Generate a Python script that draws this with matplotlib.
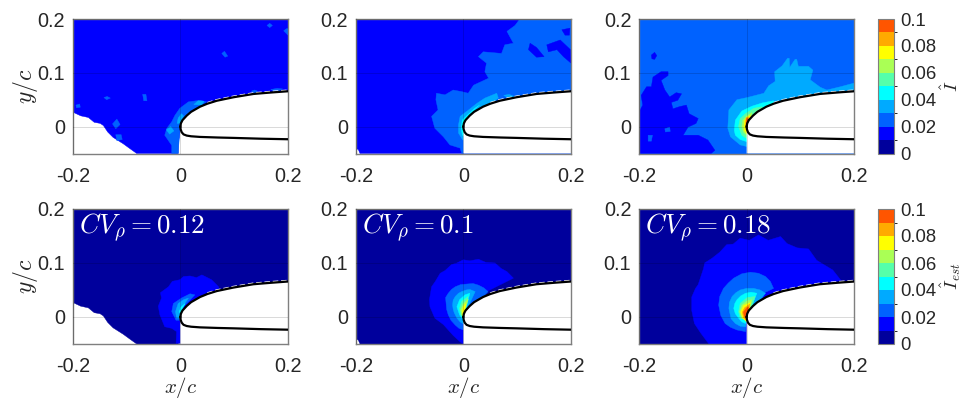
"""Leading edge fields, measured (top) and estimated (bottom)"""

import matplotlib

matplotlib.use("Agg")
import matplotlib.pyplot as plt
from matplotlib.cm import ScalarMappable
from matplotlib.colors import BoundaryNorm, ListedColormap

plt.rcParams["font.family"] = ["Liberation Sans", "DejaVu Sans"]
plt.rcParams["mathtext.fontset"] = "cm"

# colour levels of the contour plots
levels = [0, 0.01, 0.02, 0.03, 0.04, 0.05, 0.06, 0.07, 0.08, 0.09, 0.1]
level_colors = ["#00009c", "#0000ff", "#0062ff", "#00aaff", "#00ffff",
                "#55ffaa", "#aaff55", "#ffff00", "#ffaa00", "#ff5500"]
cbar_ticks = [0, 0.02, 0.04, 0.06, 0.08, 0.1]
cbar_labels = ["0", "0.02", "0.04", "0.06", "0.08", "0.1"]
x_ticks = [-0.2, 0, 0.2]
x_labels = ["-0.2", "0", "0.2"]
y_ticks = [0, 0.1, 0.2]
y_labels = ["0", "0.1", "0.2"]
cv_labels = ["0.12", "0.1", "0.18"]

# airfoil surface
upper_x = [0, 0.001, 0.004, 0.0118, 0.02, 0.0366, 0.05, 0.0675, 0.0985, 0.136, 0.17, 0.2]
upper_y = [0, 0.006, 0.012, 0.0204, 0.0275, 0.037, 0.0425, 0.048, 0.0545, 0.0607, 0.0635, 0.0657]
lower_x = [0, 0.0005, 0.0025, 0.006, 0.0118, 0.02, 0.0366, 0.07, 0.0985, 0.15, 0.2]
lower_y = [0, -0.005, -0.0105, -0.0145, -0.0167, -0.018, -0.0192, -0.0203, -0.021, -0.0225, -0.0235]

# measured area, first column (also used for the estimate below it)
wake_x = [-0.2, 0.2, 0.2, 0, -0.002, -0.004, -0.004, -0.081, -0.095, -0.106, -0.125, -0.135,
          -0.143, -0.149, -0.16, -0.171, -0.185, -0.2]
wake_y = [0.2, 0.2, 0, 0, -0.02, -0.03, -0.05, -0.05, -0.04, -0.032, -0.02, -0.01,
          0.002, 0.006, 0.008, 0.017, 0.02, 0.027]
# measured area, second column
open_x = [-0.2, 0.2, 0.2, -0.192, -0.195, -0.2]
open_y = [0.2, 0.2, -0.05, -0.05, -0.043, -0.04]
# measured area, third column
full_x = [-0.2, 0.2, 0.2, -0.2]
full_y = [0.2, 0.2, -0.05, -0.05]

# first column, measured
a2_x = [-0.016, -0.016, -0.029, -0.025, -0.016, -0.01, -0.001, 0.015, 0.037, 0.049, 0.024, 0, -0.004]
a2_y = [-0.05, -0.035, -0.016, -0.003, 0.009, 0.021, 0.034, 0.046, 0.049, 0.046, 0.031, 0.006, -0.05]
a3_x = [-0.006, -0.004, 0.002, 0.006, 0]
a3_y = [0.006, 0.016, 0.024, 0.02, 0.006]
a3b_x = [0.025, 0.033, 0.044, 0.04]
a3b_y = [0.041, 0.048, 0.047, 0.04]
a3c_x = [-0.026, -0.018, -0.012, -0.02]
a3c_y = [-0.006, 0, -0.008, -0.014]
a_spots_x = [[0.161, 0.166, 0.171, 0.166], [0.077, 0.082, 0.088, 0.083], [0.192, 0.197, 0.2, 0.2],
             [-0.142, -0.136, -0.13, -0.137], [-0.07, -0.064, -0.062, -0.068],
             [-0.126, -0.118, -0.112, -0.12], [-0.12, -0.11, -0.108, -0.118],
             [-0.194, -0.187, -0.186, -0.193], [0.132, 0.138, 0.143, 0.14],
             [0.168, 0.18, 0.19, 0.178]]
a_spots_y = [[0.188, 0.192, 0.188, 0.184], [0.136, 0.14, 0.131, 0.129], [0.178, 0.182, 0.182, 0.17],
             [0.054, 0.056, 0.053, 0.05], [0.06, 0.06, 0.048, 0.048],
             [0.005, 0.014, 0.004, -0.004], [-0.015, -0.015, -0.024, -0.026],
             [0.04, 0.042, 0.036, 0.035], [0.066, 0.068, 0.066, 0.058],
             [0.069, 0.071, 0.07, 0.064]]

# second column, measured
b2_x = [0.105, 0.096, 0.081, 0.093, 0.077, 0.071, 0.037, 0.028, 0.043, 0.04, 0.047, 0.019, 0.009,
        -0.003, -0.019, -0.034, -0.05, -0.051, -0.047, -0.059, -0.053, -0.037, -0.025, -0.006,
        -0.003, 0.2, 0.2]
b2_y = [0.2, 0.188, 0.177, 0.155, 0.152, 0.136, 0.139, 0.13, 0.118, 0.102, 0.09, 0.077, 0.062,
        0.065, 0.068, 0.059, 0.062, 0.05, 0.031, 0.019, -0.003, -0.019, -0.034, -0.04,
        -0.05, -0.05, 0.2]
b_holes_x = [[0.124, 0.136, 0.15, 0.136, 0.121],
             [0.155, 0.18, 0.199, 0.2, 0.186, 0.174, 0.158],
             [0.183, 0.198, 0.197, 0.189]]
b_holes_y = [[0.155, 0.147, 0.13, 0.129, 0.143],
             [0.152, 0.161, 0.143, 0.118, 0.13, 0.143, 0.139],
             [0.18, 0.183, 0.17, 0.17]]
b3_x = [-0.009, -0.006, 0.006, 0.025, 0.04, 0.062, 0.065, 0.02, 0, -0.001, -0.009]
b3_y = [0.003, 0.019, 0.028, 0.043, 0.053, 0.062, 0.053, 0.02, -0.025, -0.025, -0.012]
b3b_x = [0.075, 0.085, 0.095, 0.09]
b3b_y = [0.058, 0.06, 0.056, 0.05]
b4_x = [-0.004, -0.002, 0.006, 0.02, 0.03, 0.01, 0, -0.002]
b4_y = [-0.003, 0.012, 0.02, 0.033, 0.04, 0.022, -0.018, -0.015]

# third column, measured
c1_x = [-0.2, -0.193, -0.196, -0.186, -0.177, -0.174, -0.159, -0.146, -0.146, -0.159, -0.152, -0.143,
        -0.131, -0.121, -0.128, -0.14, -0.137, -0.125, -0.112, -0.107, -0.09, -0.094, -0.109,
        -0.118, -0.09, -0.072, -0.059, -0.066, -0.2]
c1_y = [0.027, 0.04, 0.058, 0.074, 0.074, 0.092, 0.102, 0.102, 0.095, 0.086, 0.068, 0.055,
        0.063, 0.061, 0.049, 0.045, 0.033, 0.037, 0.04, 0.024, 0.015, 0.006, -0.001,
        -0.016, -0.016, -0.025, -0.044, -0.05, -0.05]
c1b_x = [-0.177, -0.171, -0.167, -0.171, -0.176]
c1b_y = [0.133, 0.138, 0.132, 0.125, 0.126]
c_holes_x = [[-0.152, -0.143, -0.142, -0.151], [-0.183, -0.175, -0.177, -0.183]]
c_holes_y = [[-0.004, -0.001, -0.009, -0.01], [-0.016, -0.016, -0.027, -0.027]]
c3_x = [-0.035, -0.033, -0.018, 0.001, 0.032, 0.041, 0.053, 0.052, 0.066, 0.076, 0.079, 0.08, 0.09,
        0.093, 0.096, 0.115, 0.123, 0.118, 0.137, 0.149, 0.174, 0.2, 0.2, 0, -0.012, -0.03]
c3_y = [-0.003, 0.031, 0.05, 0.054, 0.062, 0.076, 0.084, 0.102, 0.113, 0.127, 0.127, 0.11, 0.125,
        0.125, 0.112, 0.112, 0.105, 0.087, 0.073, 0.068, 0.074, 0.081, 0.056, -0.037, -0.034, -0.019]
c4_x = [-0.023, -0.021, -0.009, 0.01, 0.029, 0.05, 0.053, 0.004, 0, -0.012, -0.021]
c4_y = [-0.007, 0.012, 0.029, 0.038, 0.044, 0.048, 0.031, -0.022, -0.028, -0.024, -0.016]
c5_x = [-0.015, -0.012, -0.002, 0.013, 0.029, 0.004, 0, -0.009]
c5_y = [0, 0.015, 0.024, 0.034, 0.037, -0.019, -0.022, -0.016]
c6_x = [-0.009, -0.007, 0, 0.01, 0.004, 0, -0.006]
c6_y = [0, 0.012, 0.02, 0.026, -0.013, -0.016, -0.01]
c7_x = [-0.005, -0.004, 0.001, 0.007, 0.004, 0, -0.004]
c7_y = [0, 0.011, 0.018, 0.021, -0.01, -0.013, -0.007]
c8_x = [-0.002, -0.001, 0.004, 0.002, 0]
c8_y = [0.006, 0.017, 0.018, -0.003, -0.006]
c9_x = [-0.001, 0, 0.004, 0.001]
c9_y = [0.008, 0.015, 0.014, 0.002]

# first column, estimated
d1_x = [-0.008, -0.007, -0.016, -0.029, -0.038, -0.041, -0.035, -0.037, -0.022, -0.015, -0.001, 0.006,
        0.018, 0.03, 0.04, 0.052, 0.058, 0.071, 0.074, 0.037, 0, 0]
d1_y = [-0.049, -0.027, -0.021, -0.018, 0.004, 0.02, 0.035, 0.045, 0.056, 0.066, 0.069, 0.075,
        0.076, 0.073, 0.078, 0.072, 0.069, 0.056, 0.044, 0.032, 0, -0.049]
d2_x = [-0.016, -0.013, 0.002, 0.018, 0.027, 0.006, 0, -0.008]
d2_y = [0.01, 0.025, 0.035, 0.043, 0.041, 0.019, -0.006, -0.006]
d3_x = [-0.009, -0.004, 0.006, 0.015, 0.002, 0, -0.007]
d3_y = [0.01, 0.025, 0.032, 0.035, 0.016, -0.002, -0.002]
d4_x = [-0.002, 0.001, 0.009, 0.002, 0]
d4_y = [0.01, 0.018, 0.025, 0.013, 0.007]

# second column, estimated
e1_x = [-0.063, -0.059, -0.052, -0.043, -0.034, -0.022, -0.012, 0, 0.012, 0.028, 0.042, 0.059, 0.07,
        0.081, 0.093, 0.043, 0, 0, -0.006, -0.019, -0.037, -0.053, -0.062]
e1_y = [0.032, 0.056, 0.066, 0.081, 0.086, 0.097, 0.1, 0.106, 0.104, 0.107, 0.101, 0.1, 0.09,
        0.084, 0.072, 0.047, 0, -0.05, -0.046, -0.034, -0.014, -0.002, 0.019]
e2_x = [-0.032, -0.033, -0.028, -0.022, -0.015, -0.005, 0.006, 0.018, 0.028, 0.038, 0.046, 0, 0,
        -0.008, -0.015, -0.023, -0.028, -0.031]
e2_y = [0.025, 0.036, 0.044, 0.051, 0.056, 0.06, 0.061, 0.062, 0.059, 0.054, 0.047, 0, -0.024,
        -0.021, -0.015, -0.006, 0.004, 0.014]
e3_x = [-0.02, -0.019, -0.015, -0.009, -0.003, 0.005, 0.012, 0.022, 0, 0, -0.006, -0.012, -0.017, -0.019]
e3_y = [0.022, 0.031, 0.038, 0.044, 0.047, 0.05, 0.051, 0.047, 0, -0.013, -0.009, -0.002, 0.008, 0.015]
e4_x = [-0.012, -0.007, 0.003, 0.012, 0, -0.007]
e4_y = [0.019, 0.032, 0.041, 0.044, -0.006, 0.004]
e5_x = [-0.007, -0.003, 0.009, 0, -0.005]
e5_y = [0.016, 0.029, 0.038, -0.002, 0.004]
e6_x = [-0.005, 0, 0.009, 0, -0.003]
e6_y = [0.013, 0.025, 0.033, 0.001, 0.004]
e7_x = [-0.002, 0, 0.005, 0]
e7_y = [0.01, 0.019, 0.025, -0.002]

# third column, estimated
f1_x = [-0.102, -0.095, -0.09, -0.08, -0.078, -0.064, -0.05, -0.037, -0.025, -0.012, 0.005, 0.022, 0.04,
        0.063, 0.075, 0.094, 0.115, 0.13, 0.16, 0.175, 0.1, 0, 0, -0.07, -0.085, -0.097, -0.102]
f1_y = [0.037, 0.053, 0.06, 0.09, 0.1, 0.109, 0.12, 0.134, 0.135, 0.146, 0.142, 0.152, 0.142,
        0.149, 0.136, 0.128, 0.126, 0.105, 0.087, 0.068, 0.05, -0.002, -0.05, -0.05, -0.03, -0.012, 0.012]
f2_x = [-0.052, -0.05, -0.043, -0.034, -0.024, -0.009, 0.007, 0.022, 0.035, 0.044, 0.05, 0.019, 0,
        -0.002, -0.018, -0.03, -0.04, -0.048]
f2_y = [0.022, 0.038, 0.053, 0.063, 0.072, 0.08, 0.083, 0.081, 0.075, 0.066, 0.053, 0.038, -0.002,
        -0.027, -0.024, -0.019, -0.012, 0.003]
f3_x = [-0.033, -0.032, -0.027, -0.02, -0.012, 0, 0.013, 0.025, 0.035, 0, -0.002, -0.012, -0.021, -0.029]
f3_y = [0.016, 0.027, 0.038, 0.045, 0.05, 0.053, 0.053, 0.05, 0.044, -0.002, -0.018, -0.017, -0.012, -0.003]
f4_x = [-0.024, -0.022, -0.018, -0.011, -0.002, 0.008, 0.019, 0, -0.002, -0.009, -0.015, -0.021]
f4_y = [0.016, 0.025, 0.032, 0.039, 0.044, 0.046, 0.044, -0.002, -0.012, -0.009, -0.002, 0.006]
f5_x = [-0.015, -0.012, 0.001, 0.016, 0, -0.012]
f5_y = [0.01, 0.025, 0.036, 0.038, -0.006, -0.002]
f6_x = [-0.013, -0.009, 0.001, 0.01, 0, -0.009]
f6_y = [0.01, 0.022, 0.03, 0.032, -0.006, -0.002]
f7_x = [-0.011, -0.006, 0.007, 0, -0.007]
f7_y = [0.009, 0.021, 0.027, -0.009, -0.002]
f8_x = [-0.008, -0.004, 0.006, 0, -0.006]
f8_y = [0.009, 0.017, 0.024, -0.006, -0.001]
f9_x = [-0.006, 0, 0.004, 0, -0.004]
f9_y = [0.009, 0.017, 0.019, -0.002, 0.001]

FIG_W, FIG_H = 968, 400
GRAY = "#262626"


def px_axes(fig, left, top, right, bottom):
    """Add axes from pixel edges, measured from the top left."""
    return fig.add_axes((left / FIG_W, 1 - bottom / FIG_H,
                         (right - left) / FIG_W, (bottom - top) / FIG_H))


def draw_panel(ax, bands):
    """Fill the bands in order, then the airfoil on top."""
    for level, xs, ys in bands:
        ax.fill(xs, ys, color=level_colors[level], lw=0.3, zorder=1)
    # nothing is measured inside or under the airfoil
    ax.fill(upper_x + [0.2, 0], upper_y + [-0.05, -0.05], color="white", lw=0, zorder=1.5)
    ax.plot(upper_x[6:], [v + 0.002 for v in upper_y[6:]], color="white", lw=1.0,
            dashes=(4, 2), zorder=4)
    ax.plot(upper_x, upper_y, color="black", lw=1.6, zorder=5)
    ax.plot(lower_x, lower_y, color="black", lw=1.6, zorder=5)

    ax.set_xlim(-0.2, 0.2)
    ax.set_ylim(-0.05, 0.2)
    ax.set_xticks(x_ticks, x_labels)
    ax.set_yticks(y_ticks, y_labels)
    ax.tick_params(length=0, labelsize=14.3, colors=GRAY)
    ax.tick_params(axis="x", pad=9.5)
    ax.tick_params(axis="y", pad=5.5)
    ax.grid(True, color="black", alpha=0.15, lw=0.7)
    ax.set_axisbelow(False)
    for spine in ax.spines.values():
        spine.set_color("#7f7f7f")
        spine.set_linewidth(1.0)


def spots(level, xs, ys):
    return [(level, x, y) for x, y in zip(xs, ys)]


panels = [
    [(1, wake_x, wake_y)] + spots(2, a_spots_x, a_spots_y)
    + [(2, a2_x, a2_y), (3, a3_x, a3_y), (3, a3b_x, a3b_y), (3, a3c_x, a3c_y)],
    [(1, open_x, open_y), (2, b2_x, b2_y)] + spots(1, b_holes_x, b_holes_y)
    + [(3, b3_x, b3_y), (3, b3b_x, b3b_y), (4, b4_x, b4_y)],
    [(2, full_x, full_y), (1, c1_x, c1_y), (1, c1b_x, c1b_y)] + spots(2, c_holes_x, c_holes_y)
    + [(3, c3_x, c3_y), (4, c4_x, c4_y), (5, c5_x, c5_y), (6, c6_x, c6_y), (7, c7_x, c7_y),
       (8, c8_x, c8_y), (9, c9_x, c9_y)],
    [(0, wake_x, wake_y), (1, d1_x, d1_y), (2, d2_x, d2_y), (3, d3_x, d3_y), (4, d4_x, d4_y)],
    [(0, open_x, open_y), (1, e1_x, e1_y), (2, e2_x, e2_y), (3, e3_x, e3_y), (4, e4_x, e4_y),
     (5, e5_x, e5_y), (6, e6_x, e6_y), (7, e7_x, e7_y)],
    [(0, full_x, full_y), (1, f1_x, f1_y), (2, f2_x, f2_y), (3, f3_x, f3_y), (4, f4_x, f4_y),
     (5, f5_x, f5_y), (6, f6_x, f6_y), (7, f7_x, f7_y), (8, f8_x, f8_y), (9, f9_x, f9_y)],
]

fig = plt.figure(figsize=(FIG_W / 100, FIG_H / 100), dpi=100)

lefts = [72.7, 355.7, 639.0]
rows = [(19.0, 153.5), (209.0, 344.0)]
cmap = ListedColormap(level_colors)
norm = BoundaryNorm(levels, cmap.N)

for i, bands in enumerate(panels):
    top, bottom = rows[i // 3]
    left = lefts[i % 3]
    ax = px_axes(fig, left, top, left + 215.3, bottom)
    draw_panel(ax, bands)
    if i % 3 == 0:
        ax.set_ylabel("$y/c$", fontsize=17, color=GRAY, labelpad=-2)
    if i >= 3:
        ax.set_xlabel("$x/c$", fontsize=15, color=GRAY, labelpad=-1)
        ax.text(0.03, 0.865, r"$CV_\rho = %s$" % cv_labels[i - 3], transform=ax.transAxes,
                color="white", fontsize=19.5, va="center", zorder=6)

for (top, bottom), name in zip(rows, [r"$\hat{I}$", r"$\hat{I}_{est}$"]):
    cax = px_axes(fig, 877.7, top, 894.3, bottom)
    cb = fig.colorbar(ScalarMappable(norm=norm, cmap=cmap), cax=cax, ticks=cbar_ticks,
                      spacing="proportional")
    cb.ax.set_yticklabels(cbar_labels)
    cb.ax.tick_params(length=0, labelsize=13.3, colors=GRAY, pad=4.5)
    cb.outline.set_edgecolor("#7f7f7f")
    cb.outline.set_linewidth(0.8)
    cb.dividers.set_visible(False)
    fig.text(951 / FIG_W, 1 - (top + 67) / FIG_H, name, rotation=90, fontsize=13.5, color=GRAY,
             ha="center", va="center")

fig.savefig("out.png", dpi=100)
